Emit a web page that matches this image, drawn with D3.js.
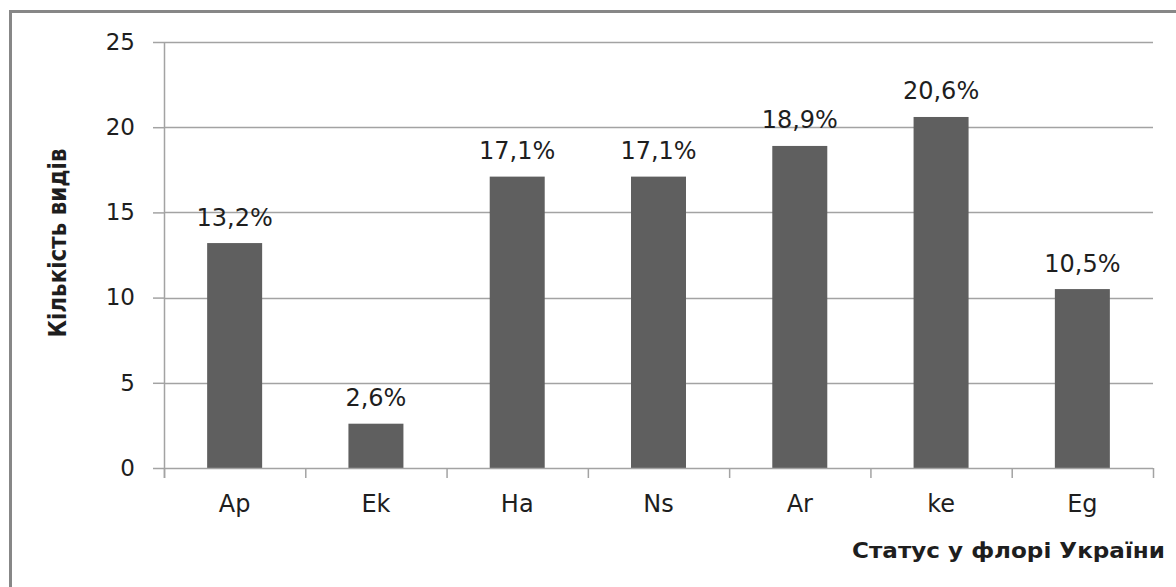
<!DOCTYPE html>
<html>
<head>
<meta charset="utf-8">
<script src="https://cdn.jsdelivr.net/npm/d3@7"></script>
<style>
  html, body { margin: 0; padding: 0; background: #fff; }
  svg { display: block; }
  text { font-family: "DejaVu Sans", sans-serif; fill: #1e1e1e; }
</style>
</head>
<body>
<svg id="chart" width="1176" height="587"></svg>
<script>
const categories = ["Ap", "Ek", "Ha", "Ns", "Ar", "ke", "Eg"];
const values = [13.2, 2.6, 17.1, 17.1, 18.9, 20.6, 10.5];
const valueLabels = ["13,2%", "2,6%", "17,1%", "17,1%", "18,9%", "20,6%", "10,5%"];
const yTicks = [0, 5, 10, 15, 20, 25];
const xTitle = "Статус у флорі України";
const yTitle = "Кількість видів";

const svg = d3.select("#chart");
const W = 1176, H = 587;
const plot = { left: 164, right: 1153, top: 42, bottom: 468 };

svg.append("rect").attr("width", W).attr("height", H).attr("fill", "#fff");
// outer frame (extends beyond the picture on right and bottom)
svg.append("rect")
  .attr("x", 10.5).attr("y", 11.5).attr("width", 1300).attr("height", 700)
  .attr("fill", "none").attr("stroke", "#878787").attr("stroke-width", 3);

const x = d3.scaleBand().domain(categories).range([plot.left, plot.right]).paddingInner(0).paddingOuter(0);
const y = d3.scaleLinear().domain([0, 25]).range([plot.bottom, plot.top]);

const gridColor = "#a3a3a3";

// gridlines
svg.append("g").selectAll("line").data(yTicks.filter(d => d > 0)).join("line")
  .attr("x1", plot.left).attr("x2", plot.right)
  .attr("y1", d => Math.round(y(d)) + 0.5).attr("y2", d => Math.round(y(d)) + 0.5)
  .attr("stroke", gridColor).attr("stroke-width", 1.5);

// y axis
const yAxis = svg.append("g").attr("transform", `translate(${plot.left},0)`)
  .call(d3.axisLeft(y).tickValues(yTicks).tickSize(11).tickPadding(18).tickFormat(d3.format("d")));
yAxis.select(".domain").attr("stroke", gridColor).attr("stroke-width", 1.5).attr("d", `M0.5,${plot.top}V${plot.bottom + 10}`);
yAxis.selectAll(".tick line").attr("stroke", gridColor).attr("stroke-width", 1.5);
yAxis.selectAll(".tick text").attr("font-size", 23).attr("font-family", "DejaVu Sans").attr("fill", "#1e1e1e");

// bars
const barW = 55;
svg.append("g").selectAll("rect").data(values).join("rect")
  .attr("x", (d, i) => x(categories[i]) + x.bandwidth() / 2 - barW / 2)
  .attr("y", d => y(d))
  .attr("width", barW)
  .attr("height", d => y(0) - y(d))
  .attr("fill", "#5f5f5f");

// x axis
const xAxisG = svg.append("g").attr("transform", `translate(0,${plot.bottom})`);
xAxisG.append("line").attr("x1", plot.left).attr("x2", plot.right)
  .attr("y1", 0.5).attr("y2", 0.5).attr("stroke", gridColor).attr("stroke-width", 1.5);
const edges = categories.map(c => x(c)).concat([plot.right]);
xAxisG.selectAll("line.tk").data(edges).join("line").attr("class", "tk")
  .attr("x1", d => d + 0.5).attr("x2", d => d + 0.5).attr("y1", 0).attr("y2", 10)
  .attr("stroke", gridColor).attr("stroke-width", 1.5);
xAxisG.selectAll("text").data(categories).join("text")
  .attr("x", d => x(d) + x.bandwidth() / 2)
  .attr("y", 44)
  .attr("text-anchor", "middle")
  .attr("font-size", 24)
  .text(d => d);

// value labels
svg.append("g").selectAll("text").data(values).join("text")
  .attr("x", (d, i) => x(categories[i]) + x.bandwidth() / 2)
  .attr("y", d => y(d) - 17.5)
  .attr("text-anchor", "middle")
  .attr("font-size", 24)
  .text((d, i) => valueLabels[i]);

// axis titles
svg.append("text")
  .attr("x", 1165).attr("y", 558)
  .attr("text-anchor", "end")
  .attr("font-size", 21).attr("font-weight", "bold")
  .attr("textLength", 313).attr("lengthAdjust", "spacingAndGlyphs")
  .text(xTitle);

svg.append("text")
  .attr("transform", "translate(66,243) rotate(-90)")
  .attr("text-anchor", "middle")
  .attr("font-size", 25).attr("font-weight", "bold")
  .attr("textLength", 189).attr("lengthAdjust", "spacingAndGlyphs")
  .text(yTitle);
</script>
</body>
</html>
